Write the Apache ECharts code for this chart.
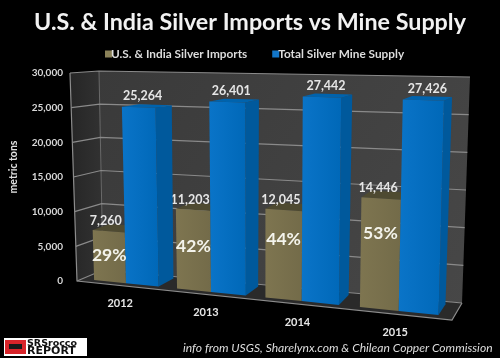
<!DOCTYPE html>
<html><head><meta charset="utf-8">
<style>html,body{margin:0;padding:0;background:#000}#c{width:500px;height:358px}</style>
<script src="https://cdn.jsdelivr.net/npm/echarts@6/dist/echarts.min.js"></script>
</head><body><div id="c"></div>
<script>
var years = ['2012','2013','2014','2015'];
var imports = [7260,11203,12045,14446];
var supply = [25264,26401,27442,27426];
var shares = ['29%','42%','44%','53%'];
var gridValues = [0,5000,10000,15000,20000,25000,30000];

// layout only: perspective box of the plot: F = front plane, B = back wall (BL, BR, TR, TL)
var F=[[77,281],[452,320],[458,82],[70,73]], B=[[103,270],[462,303],[470,77],[99,71]], K=1.144;
var shareLift=[0.52,0.55,0.67,0.68];
function warp(u,v,w){
  var t=u/(u+(1-u)*K);
  function q(Q,i){var b=Q[0][i]+(Q[1][i]-Q[0][i])*t, a=Q[3][i]+(Q[2][i]-Q[3][i])*t; return b+(a-b)*v;}
  return [q(F,0)*(1-w)+q(B,0)*w, q(F,1)*(1-w)+q(B,1)*w];
}
var GL=77,GT=73,GW=375,GH=208,S=0.98;
function norm(api,idx,val){var c=api.coord([idx,val]);var u=(c[0]-GL)/GW;return [u*S+(1-S)/2,(GT+GH-c[1])/GH];}
function poly(pts,fill,z){return {type:'polygon',shape:{points:pts},style:{fill:fill},z2:z||0};}
var W0=0.2,W1=0.85,BW=0.096;

function barRender(side,colors,labelOffset){
  return function(params,api){
    var i=api.value(0),val=api.value(1);
    var n=norm(api,i,val),u=n[0],v=n[1];
    var u0=side<0?u-BW:u, u1=side<0?u:u+BW;
    var f0=warp(u0,0,W0),f1=warp(u1,0,W0),f2=warp(u1,v,W0),f3=warp(u0,v,W0);
    var b1=warp(u1,0,W1),b2=warp(u1,v,W1),b3=warp(u0,v,W1);
    var tx=(f3[0]+f2[0])/2;
    var kids=[
      poly([f1,b1,b2,f2],colors.side),
      poly([f3,f2,b2,b3],colors.top),
      {type:'polygon',shape:{points:[f0,f1,f2,f3]},style:{fill:{type:'linear',x:0,y:0,x2:1,y2:0,colorStops:colors.front}}},
      {type:'text',style:{text:api.value(2),x:tx+labelOffset[0],y:f3[1]+labelOffset[1],fill:'#e6e6e6',font:'bold 12.5px Lato',align:'center',verticalAlign:'middle'},z2:5}
    ];
    return {type:'group',children:kids};
  };
}
function fmt(n){return n.toLocaleString('en-US');}
var goldData=imports.map(function(v,i){return [i,v,fmt(v),shares[i]];});
var blueData=supply.map(function(v,i){return [i,v,fmt(v)];});

var option={
  backgroundColor:'#000',
  animation:false,
  title:{text:'U.S. & India Silver Imports vs Mine Supply',left:'center',top:11,padding:0,
    textStyle:{color:'#f2f2f2',fontFamily:'Lato',fontWeight:'bold',fontSize:23.3}},
  legend:{top:43,left:100,itemWidth:7,itemHeight:7,itemGap:25,icon:'rect',
    textStyle:{color:'#dcdcdc',fontFamily:'Lato',fontWeight:'bold',fontSize:11.8,padding:[0,0,0,-6]},
    data:['U.S. & India Silver Imports','Total Silver Mine Supply']},
  grid:{left:GL,top:GT,width:GW,height:GH},
  xAxis:{type:'category',data:years,axisLine:{show:false},axisTick:{show:false},axisLabel:{show:false}},
  yAxis:{type:'value',min:0,max:30000,interval:5000,
    name:'metric tons',nameLocation:'middle',nameGap:58,nameRotate:90,
    nameTextStyle:{color:'#e0e0e0',fontFamily:'Lato',fontWeight:'bold',fontSize:10.5,padding:[0,0,0,20]},
    axisLine:{show:false},axisTick:{show:false},splitLine:{show:false},
    axisLabel:{color:'#d8d8d8',fontFamily:'Lato',fontWeight:'bold',fontSize:10,margin:14,
      formatter:function(v){return fmt(v);}}},
  series:[
    {type:'custom',name:'walls',silent:true,z:1,data:gridValues.map(function(v){return [0,v];}),
     encode:{x:0,y:1},clip:false,
     renderItem:function(p,api){
       var v=(GT+GH-api.coord([0,api.value(1)])[1])/GH;
       var kids=[];
       if(p.dataIndex===0){
         kids.push({type:'polygon',shape:{points:[warp(0,0,1),warp(1,0,1),warp(1,1,1),warp(0,1,1)]},
           style:{fill:{type:'linear',x:0,y:0,x2:1,y2:1,colorStops:[{offset:0,color:'#3a3a3a'},{offset:1,color:'#474747'}]}}});
         kids.push({type:'polygon',shape:{points:[warp(0,0,0),warp(0,0,1),warp(0,1,1),warp(0,1,0)]},
           style:{fill:{type:'linear',x:0,y:0,x2:1,y2:0,colorStops:[{offset:0,color:'#262626'},{offset:1,color:'#323232'}]}}});
         kids.push({type:'polygon',shape:{points:[warp(0,0,0),warp(1,0,0),warp(1,0,1),warp(0,0,1)]},style:{fill:'#2a2a2a'}});
         kids.push({type:'polyline',shape:{points:[warp(0,1,0),warp(0,0,0),warp(1,0,0),warp(1,0,1)]},style:{fill:'none',stroke:'#8c8c8c',lineWidth:1.2}});
         kids.push({type:'polyline',shape:{points:[warp(0,1,1),warp(0,0,1)]},style:{fill:'none',stroke:'#6a6a6a',lineWidth:1}});
       }
       kids.push({type:'polyline',shape:{points:[warp(0,v,0),warp(0,v,1),warp(1,v,1)]},style:{fill:'none',stroke:'#8a8a8a',lineWidth:1.2}});
       return {type:'group',children:kids};
     }},
    {type:'custom',name:'U.S. & India Silver Imports',z:2,encode:{x:0,y:1},clip:false,data:goldData,
     itemStyle:{color:'#8a8158'},
     renderItem:barRender(-1,{top:'#4e4a31',side:'#5b5538',front:[{offset:0,color:'#7e7550'},{offset:1,color:'#736b49'}]},[-3,-9])},
    {type:'custom',name:'Total Silver Mine Supply',z:3,encode:{x:0,y:1},clip:false,data:blueData,
     itemStyle:{color:'#1276c9'},
     renderItem:barRender(1,{top:'#0063ad',side:'#00599c',front:[{offset:0,color:'#0a74c8'},{offset:1,color:'#0068b8'}]},[4,-11])},
    {type:'custom',name:'share',z:4,silent:true,encode:{x:0,y:1},clip:false,data:goldData,
     renderItem:function(p,api){
       var i=api.value(0);var n=norm(api,i,api.value(1));
       var c=warp(n[0]-BW/2,n[1]*shareLift[i],W0);
       return {type:'text',z2:6,style:{text:api.value(3),x:c[0],y:c[1],fill:'#f4f4ec',font:'bold 17.5px Lato',align:'center',verticalAlign:'middle',
         shadowBlur:4,shadowColor:'rgba(0,0,0,0.7)',shadowOffsetX:1,shadowOffsetY:2}};
     }},
    {type:'custom',name:'years',z:4,silent:true,encode:{x:0,y:1},clip:false,data:years.map(function(y,i){return [i,0,y];}),
     renderItem:function(p,api){
       var i=api.value(0);var n=norm(api,i,0);
       var c=warp(n[0],0,0);
       return {type:'text',style:{text:api.value(2),x:c[0]-1,y:c[1]+18,fill:'#e6e6e6',font:'bold 11px Lato',align:'center',verticalAlign:'middle'}};
     }}
  ],
  graphic:[
    {type:'text',left:183,top:342,style:{text:'info from USGS, Sharelynx.com & Chilean Copper Commission',fill:'#dedede',font:'italic 12.1px Lato'}},
    {type:'rect',shape:{x:4,y:338,width:83,height:18},style:{fill:'#fff'}},
    {type:'rect',shape:{x:5,y:340,width:21,height:14},style:{fill:'#d8242a'}},
    {type:'rect',shape:{x:9,y:344,width:13,height:5},style:{fill:'#1a1a1a'}},
    {type:'text',left:27,top:339,style:{text:'SRSrocco',fill:'#111',font:'bold 9.5px "DejaVu Sans"'}},
    {type:'text',left:27,top:346,style:{text:'REPORT',fill:'#111',font:'bold 11px "DejaVu Sans"'}}
  ]
};
var chart=echarts.init(document.getElementById('c'),null,{renderer:'canvas'});
chart.setOption(option);
</script></body></html>
